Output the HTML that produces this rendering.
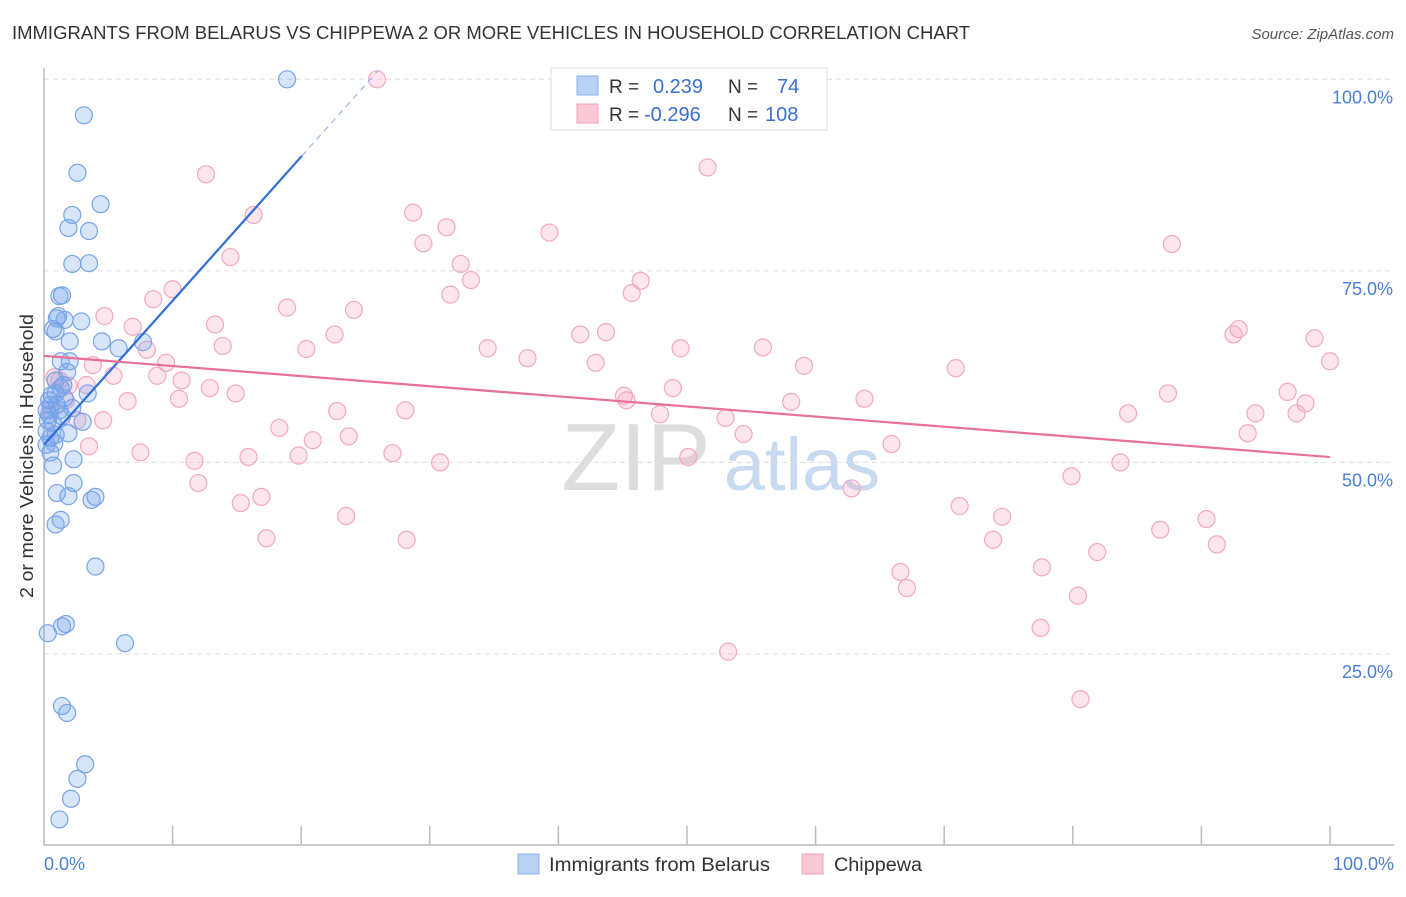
<!DOCTYPE html>
<html><head><meta charset="utf-8"><style>
body{margin:0;background:#fff;font-family:"Liberation Sans",sans-serif}
svg text{font-family:"Liberation Sans",sans-serif}
</style></head><body>
<svg id="chart" width="1406" height="892" xmlns="http://www.w3.org/2000/svg">
<text x="12" y="39" font-size="18" fill="#333" textLength="958" lengthAdjust="spacingAndGlyphs">IMMIGRANTS FROM BELARUS VS CHIPPEWA 2 OR MORE VEHICLES IN HOUSEHOLD CORRELATION CHART</text>
<text x="1394" y="39" font-size="15" fill="#555" text-anchor="end" font-style="italic">Source: ZipAtlas.com</text>
<g font-size="96" text-anchor="middle">
<text x="636" y="490" fill="#ddd" font-family="Liberation Serif">ZIP</text>
<text x="802" y="490" fill="#c8daf0" font-size="74">atlas</text>
</g>
<g id="grid"></g>
<g id="axes"></g>
<g id="pink"></g>
<g id="blue"></g>
<g id="trends"></g>
<text transform="translate(33,456) rotate(-90)" font-size="18" fill="#333" text-anchor="middle" textLength="284" lengthAdjust="spacingAndGlyphs">2 or more Vehicles in Household</text>
<g>
<rect x="551" y="68" width="276" height="62" fill="#fff" stroke="#ddd"/>
<rect x="577" y="76" width="21" height="19" fill="#b8d2f5" stroke="#8ab0e8"/>
<rect x="577" y="104" width="21" height="19" fill="#fbc8d6" stroke="#f0a0bc"/>
<text x="609" y="93" font-size="19" fill="#333">R =</text>
<text x="653" y="93" font-size="20" fill="#3a70d0">0.239</text>
<text x="728" y="93" font-size="19" fill="#333">N =</text>
<text x="777" y="93" font-size="20" fill="#3a70d0">74</text>
<text x="609" y="121" font-size="19" fill="#333">R =</text>
<text x="644" y="121" font-size="20" fill="#3a70d0">-0.296</text>
<text x="728" y="121" font-size="19" fill="#333">N =</text>
<text x="765" y="121" font-size="20" fill="#3a70d0">108</text>
</g>
<g>
<rect x="518" y="854" width="21" height="20" fill="#b8d2f5" stroke="#8ab0e8"/>
<text x="549" y="871" font-size="19" fill="#333" textLength="221" lengthAdjust="spacingAndGlyphs">Immigrants from Belarus</text>
<rect x="802" y="854" width="21" height="20" fill="#fbc8d6" stroke="#f0a0bc"/>
<text x="834" y="871" font-size="19" fill="#333" textLength="88" lengthAdjust="spacingAndGlyphs">Chippewa</text>
</g>
</svg>
<script>
const yTicks=[25,50,75,100];
const yTickLabels=["25.0%","50.0%","75.0%","100.0%"];
const xTicks=[10,20,30,40,50,60,70,80,90,100];
const blueX=[18.9,3.1,2.6,4.4,2.2,1.9,3.5,2.2,3.5,1.4,1.2,1.1,1.0,1.6,2.9,0.7,0.9,2.0,4.5,7.7,5.8,1.3,2.0,1.3,3.4,0.9,0.4,1.6,1.0,2.2,0.4,1.4,3.0,0.7,0.2,0.9,1.9,0.5,0.5,2.3,0.7,2.3,1.0,1.9,4.0,3.7,1.3,0.9,4.0,0.3,1.7,1.4,6.3,1.4,1.8,3.2,2.6,2.1,1.2,0.2,0.3,0.9,1.5,0.6,1.8,0.2,1.2,0.8,0.5];
const blueY=[100,95.3,87.8,83.7,82.3,80.6,80.2,75.9,76.0,71.8,71.7,69.1,68.8,68.6,68.4,67.4,67.1,65.8,65.8,65.7,64.9,63.2,63.2,59.7,59.0,59.0,58.1,58.4,57.5,57.1,56.2,56.0,55.3,55.1,54.1,53.6,53.8,53.2,51.3,50.4,49.6,47.3,46.0,45.6,45.5,45.1,42.5,41.9,36.4,27.7,28.9,28.6,26.4,18.2,17.3,10.6,8.7,6.1,3.4,56.8,55.5,60.7,60.1,58.8,61.8,52.3,56.8,52.5,57.5];
const pinkX=[25.9,51.6,12.6,16.3,28.7,31.3,39.3,29.5,14.5,32.4,33.2,87.7,46.4,45.7,31.6,10.0,8.5,18.9,24.1,4.7,6.9,13.3,41.7,43.7,92.9,92.5,98.8,100,13.9,20.4,22.6,34.5,37.6,42.9,49.5,55.9,70.9,59.1,3.8,8.0,9.5,5.4,8.8,10.7,12.9,14.9,0.8,1.9,3.3,1.7,6.5,10.5,45.1,45.3,48.9,63.8,58.1,87.4,96.7,98.1,47.9,53.0,4.6,22.8,28.1,84.3,94.2,97.4,18.3,54.4,23.7,20.9,93.6,7.5,15.9,19.8,27.1,65.9,50.1,11.7,30.8,83.7,79.9,12.0,16.9,15.3,62.8,71.2,23.5,74.5,90.4,86.8,17.3,28.2,73.8,91.2,81.9,77.6,66.6,67.1,80.4,77.5,53.2,80.6,1.2,3.5,2.6,0.5];
const pinkY=[100,88.5,87.6,82.3,82.6,80.7,80.0,78.6,76.8,75.9,73.8,78.5,73.7,72.1,71.9,72.6,71.3,70.2,69.9,69.1,67.7,68.0,66.7,67.0,67.4,66.7,66.2,63.2,65.2,64.8,66.7,64.9,63.6,63.0,64.9,65.0,62.3,62.6,62.7,64.7,63.0,61.3,61.3,60.7,59.7,59.0,61.1,60.0,60.1,58.1,58.0,58.3,58.7,58.1,59.7,58.3,57.9,59.0,59.2,57.7,56.3,55.8,55.5,56.7,56.8,56.4,56.4,56.4,54.5,53.7,53.4,52.9,53.8,51.3,50.7,50.9,51.2,52.4,50.7,50.2,50.0,50.0,48.2,47.3,45.5,44.7,46.6,44.3,43.0,42.9,42.6,41.2,40.1,39.9,39.9,39.3,38.3,36.3,35.7,33.6,32.6,28.4,25.3,19.1,60.7,52.1,55.5,56.8];
const blueTrend=[52.3,1.88]; // intercept, slope
const blueSolidEnd=20.06, blueDashEnd=26;
const pinkTrend=[63.9,-0.132];

const NS="http://www.w3.org/2000/svg";
const sx=v=>44+v*12.86, sy=v=>845.5-v*7.662;
function mk(tag,attrs,parent){const e=document.createElementNS(NS,tag);for(const k in attrs)e.setAttribute(k,attrs[k]);parent.appendChild(e);return e;}
const grid=document.getElementById('grid'),axes=document.getElementById('axes');
yTicks.forEach((t,i)=>{
 const l=mk('line',{x1:44,x2:1394,y1:sy(t),y2:sy(t),stroke:'#ddd','stroke-dasharray':'5,4'},grid);
 
 
 const tx=mk('text',{x:1393,y:sy(t)+24,'font-size':18,fill:'#4a7fd6','text-anchor':'end'},axes);
 tx.textContent=yTickLabels[i];
 
 
});
const ya=mk('line',{x1:44,x2:44,y1:68,y2:845,stroke:'#bbb','stroke-width':1.5},axes);


const xa=mk('line',{x1:44,x2:1394,y1:845,y2:845,stroke:'#bbb','stroke-width':1.5},axes);


xTicks.forEach(t=>{
 const l=mk('line',{x1:sx(t),x2:sx(t),y1:826,y2:845,stroke:'#bbb','stroke-width':1.5},axes);
 
 
});
const x0=mk('text',{x:44,y:870,'font-size':18,fill:'#4a7fd6'},axes);x0.textContent='0.0%';


const x1=mk('text',{x:1394,y:870,'font-size':18,fill:'#4a7fd6','text-anchor':'end'},axes);x1.textContent='100.0%';


const pg=document.getElementById('pink');
pinkX.forEach((x,i)=>{
 const c=mk('circle',{cx:sx(x),cy:sy(pinkY[i]),r:8.5,fill:'rgba(245,160,188,0.28)',stroke:'#f2a9c1','stroke-width':1.2},pg);
 
 
});
const bg=document.getElementById('blue');
blueX.forEach((x,i)=>{
 const c=mk('circle',{cx:sx(x),cy:sy(blueY[i]),r:8.5,fill:'rgba(110,160,235,0.28)',stroke:'#78a4e8','stroke-width':1.2},bg);
 
 
});
const tg=document.getElementById('trends');
const by=x=>blueTrend[0]+blueTrend[1]*x, py=x=>pinkTrend[0]+pinkTrend[1]*x;
const bl=mk('line',{x1:sx(0),y1:sy(by(0)),x2:sx(blueSolidEnd),y2:sy(by(blueSolidEnd)),stroke:'#2f6fd6','stroke-width':2.2},tg);


const bd=mk('line',{x1:sx(blueSolidEnd),y1:sy(by(blueSolidEnd)),x2:sx(blueDashEnd),y2:sy(by(blueDashEnd)),stroke:'#9ab8e8','stroke-width':1.2,'stroke-dasharray':'6,5'},tg);


const pl=mk('line',{x1:sx(0),y1:sy(py(0)),x2:sx(100),y2:sy(py(100)),stroke:'#e8709a','stroke-width':2.2},tg);


</script>
</body></html>
